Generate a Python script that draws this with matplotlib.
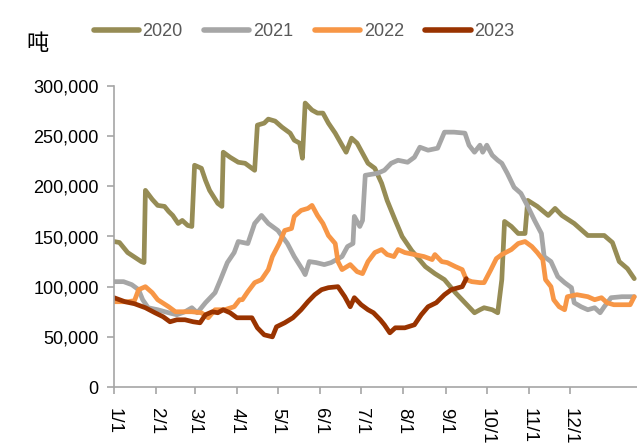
import numpy as np
import matplotlib
matplotlib.use("Agg")
import matplotlib.pyplot as plt

plt.rcParams['font.family'] = ['Liberation Sans', 'Noto Sans CJK SC', 'DejaVu Sans']

# day index (0 = 1/1), values in 吨
days_2020 = [0, 4, 10, 20, 22, 23, 28, 32, 37, 40, 43, 47, 50, 54, 57, 59, 64, 67, 70, 76, 79, 80, 85, 91,
             96, 103, 105, 110, 113, 118, 123, 129, 132, 136, 138, 140, 145, 149, 153, 157, 162, 167, 170,
             174, 178, 182, 186, 191, 196, 200, 206, 211, 218, 228, 235, 242, 250, 257, 264, 268, 271, 277,
             281, 284, 286, 291, 296, 301, 303, 310, 318, 323, 328, 337, 347, 359, 365, 370, 376, 381]
vals_2020 = [145, 144, 134, 125, 124, 196, 187, 181, 180, 175, 171, 163, 166, 161, 160, 221, 218, 206, 196,
             183, 180, 234, 229, 224, 223, 216, 261, 263, 267, 265, 259, 253, 246, 243, 228, 283, 276, 273,
             273, 263, 253, 241, 234, 248, 243, 233, 223, 218, 203, 186, 166, 150, 136, 120, 113, 107, 94,
             84, 74, 77, 79, 77, 74, 107, 165, 160, 153, 153, 186, 180, 171, 178, 171, 163, 151, 151, 144,
             125, 118, 108]

days_2021 = [0, 7, 13, 18, 21, 25, 32, 40, 46, 52, 57, 61, 67, 74, 78, 83, 88, 91, 98, 103, 108, 113, 120,
             127, 132, 138, 140, 143, 148, 154, 159, 167, 171, 175, 176, 180, 182, 184, 193, 198, 203, 208,
             215, 220, 224, 230, 237, 242, 249, 257, 260, 264, 268, 270, 273, 277, 281, 284, 288, 293, 298,
             303, 308, 313, 315, 320, 325, 330, 335, 337, 342, 347, 352, 356, 359, 364, 372, 381]
vals_2021 = [105, 105, 102, 97, 87, 79, 77, 74, 72, 75, 79, 74, 84, 94, 107, 124, 134, 145, 143, 163, 171,
             163, 156, 143, 130, 117, 112, 125, 124, 122, 124, 130, 140, 143, 170, 160, 166, 211, 213, 216,
             223, 226, 224, 229, 239, 236, 238, 254, 254, 253, 241, 234, 241, 234, 241, 231, 226, 223, 213,
             199, 193, 180, 166, 153, 130, 125, 110, 104, 99, 84, 80, 77, 79, 74, 80, 89, 90, 90]

days_2022 = [0, 10, 15, 18, 23, 28, 32, 40, 45, 50, 57, 64, 69, 74, 81, 88, 92, 94, 98, 103, 108, 113, 116,
             121, 125, 130, 132, 137, 142, 145, 149, 153, 157, 162, 164, 167, 173, 178, 182, 186, 191, 196,
             200, 205, 208, 213, 220, 227, 233, 235, 240, 244, 250, 255, 258, 262, 268, 271, 276, 280, 284,
             291, 296, 301, 306, 310, 314, 316, 320, 322, 326, 330, 332, 339, 347, 352, 357, 361, 366, 373,
             378, 381]
vals_2022 = [85, 85, 86, 97, 100, 94, 87, 80, 75, 75, 75, 74, 69, 77, 77, 80, 87, 87, 95, 104, 107, 117, 130,
             143, 156, 158, 170, 176, 178, 181, 171, 163, 151, 143, 125, 117, 122, 115, 113, 125, 134, 137,
             132, 130, 137, 134, 132, 130, 127, 132, 125, 124, 120, 117, 107, 105, 104, 104, 117, 128, 132,
             137, 143, 145, 140, 134, 127, 107, 100, 87, 80, 77, 90, 92, 90, 87, 89, 84, 82, 82, 82, 90]

days_2023 = [0, 8, 15, 23, 30, 36, 41, 46, 52, 58, 63, 67, 72, 76, 80, 85, 90, 94, 101, 105, 110, 116, 119,
             125, 131, 137, 142, 147, 152, 157, 164, 169, 173, 176, 181, 186, 190, 195, 198, 202, 206, 213,
             220, 225, 230, 236, 242, 247, 255, 258]
vals_2023 = [89, 85, 83, 79, 74, 70, 65, 67, 67, 65, 64, 72, 75, 74, 77, 74, 69, 69, 69, 59, 52, 50, 60,
             64, 69, 77, 85, 92, 97, 99, 100, 90, 80, 89, 82, 77, 74, 67, 62, 54, 59, 59, 62, 72, 80, 84,
             92, 97, 100, 108]

years = ['2020', '2021', '2022', '2023']
farben = ['#968C55', '#A6A6A6', '#F79646', '#993300']
serien = [(days_2020, vals_2020), (days_2021, vals_2021), (days_2022, vals_2022), (days_2023, vals_2023)]

month_days = [0, 31, 59, 90, 120, 151, 181, 212, 243, 273, 304, 334]
month_labels = ['1/1', '2/1', '3/1', '4/1', '5/1', '6/1', '7/1', '8/1', '9/1', '10/1', '11/1', '12/1']

fig = plt.figure(figsize=(6.37, 4.44), dpi=100)
ax = fig.add_axes([114 / 637, 57 / 444, 1 - 114 / 637, 301 / 444])

for (d, v), jahr, farbe in zip(serien, years, farben):
    ax.plot(d, np.array(v) * 1000, color=farbe, lw=3.4, label=jahr,
            solid_joinstyle='round', solid_capstyle='round')

ax.set_xlim(0, 383)
ax.set_ylim(0, 300000)
ax.set_yticks(np.arange(0, 300001, 50000))
ax.set_yticklabels(['{:,}'.format(t) for t in range(0, 300001, 50000)], fontsize=13)
ax.set_xticks(month_days)
ax.set_xticklabels(month_labels, rotation=-90, fontsize=13.5, va='top', ha='center')

for s in ['top', 'right']:
    ax.spines[s].set_visible(False)
for s in ['left', 'bottom']:
    ax.spines[s].set_color('#A6A6A6')
    ax.spines[s].set_linewidth(1.2)
ax.tick_params(axis='both', direction='out', length=5, width=1.2, color='#A6A6A6')
ax.tick_params(axis='y', pad=6)
ax.tick_params(axis='x', pad=10)

leg = fig.legend(loc='center', bbox_to_anchor=(304 / 637, 1 - 32 / 444), ncol=4, frameon=False,
                 fontsize=13, handlelength=2.5, handletextpad=0.2, columnspacing=1.2,
                 borderaxespad=0)
for t in leg.get_texts():
    t.set_color('#595959')
for l in leg.get_lines():
    l.set_linewidth(4)

fig.text(38 / 637, 1 - 43 / 444, '吨', fontsize=16, ha='center', va='center',
         family=['Noto Sans CJK SC', 'DejaVu Sans'])

fig.savefig('out.png', dpi=100)
